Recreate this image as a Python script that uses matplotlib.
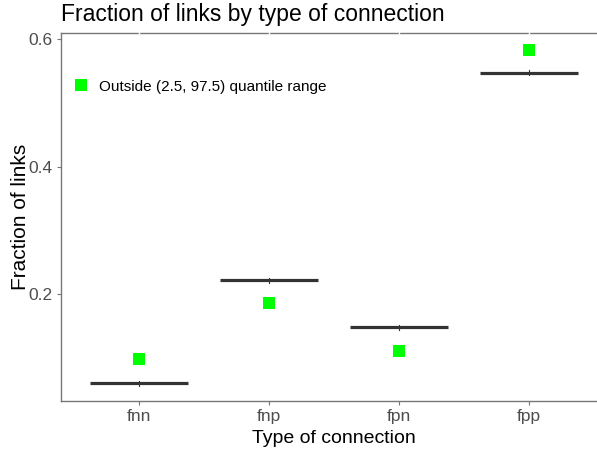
import matplotlib
matplotlib.use("Agg")
import matplotlib.pyplot as plt
import matplotlib.transforms as mtransforms

categories = ["fnn", "fnp", "fpn", "fpp"]
median_vals = [0.060, 0.222, 0.148, 0.547]
outside_vals = [0.098, 0.186, 0.111, 0.583]
yticks = [0.2, 0.4, 0.6]
ytick_labels = ["0.2", "0.4", "0.6"]

plt.rcParams['font.family'] = ['Liberation Sans', 'DejaVu Sans']

W, H = 597, 451
fig = plt.figure(figsize=(W / 100, H / 100), dpi=100)
left, right, top, bottom = 61, 607, 33, 401
ax = fig.add_axes([left / W, 1 - bottom / H, (right - left) / W, (bottom - top) / H])

x = list(range(1, len(categories) + 1))
box_w = 0.75
for xi, m in zip(x, median_vals):
    ax.plot([xi - box_w / 2, xi + box_w / 2], [m, m], color="#333333", lw=2.3,
            solid_capstyle="butt", zorder=2)
    ax.plot([xi, xi], [m - 0.004, m + 0.004], color="#333333", lw=0.8, zorder=2)

ax.plot(x, outside_vals, linestyle="none", marker="s", markersize=8.0,
        color="#00FF00", markeredgewidth=0, zorder=3,
        label="Outside (2.5, 97.5) quantile range")

ax.set_xlim(0.4, 4.6)
ax.set_ylim(0.0325, 0.6094)
ax.set_xticks(x)
ax.set_xticklabels(categories)
ax.set_yticks(yticks)
ax.set_yticklabels(ytick_labels)

for s in ["left", "bottom", "top"]:
    ax.spines[s].set_color("#777777")
    ax.spines[s].set_linewidth(1.0)
ax.spines["right"].set_visible(False)
ax.tick_params(axis="both", colors="#777777", length=3, width=0.8,
               labelsize=12.5, labelcolor="#4D4D4D", pad=3)

# small gaps in top border at category positions
trans = mtransforms.blended_transform_factory(ax.transData, ax.transAxes)
for xi in x:
    ax.plot([xi, xi], [0.995, 1.005], color="white", lw=1.0, transform=trans,
            clip_on=False, zorder=5)

ax.set_xlabel("Type of connection", fontsize=14, color="black", labelpad=4)
ax.set_ylabel("Fraction of links", fontsize=15, color="black")
ax.yaxis.set_label_coords((30 - left) / (right - left), 0.5)
fig.text(61 / W, 1 - 14.5 / H, "Fraction of links by type of connection",
         fontsize=16.5, color="black", va="center", ha="left")

leg = ax.legend(loc="center left", bbox_to_anchor=(75 / W, 1 - 86.5 / H),
                bbox_transform=fig.transFigure, frameon=False,
                fontsize=11, handlelength=0.8, handletextpad=0.77,
                borderaxespad=0, borderpad=0)

fig.savefig("out.png", dpi=100, facecolor="white")
